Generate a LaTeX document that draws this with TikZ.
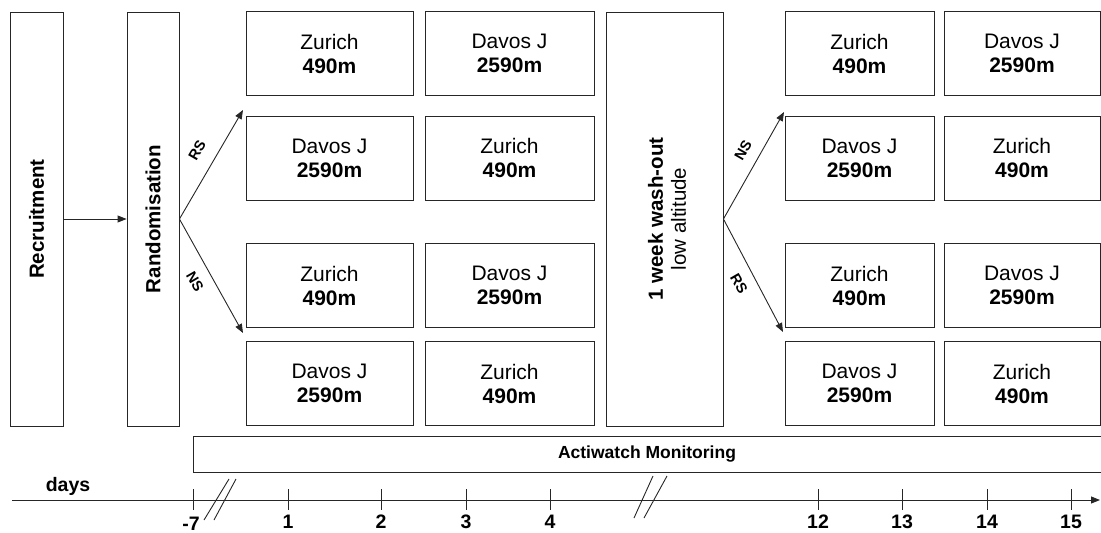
\documentclass[tikz,border=0pt]{standalone}
\usepackage{fontspec}
\setmainfont{Liberation Sans}
\usetikzlibrary{arrows.meta, positioning}
\tikzset{>={Triangle[length=9pt,width=7pt]}}
\tikzset{
  cell/.style={draw, inner sep=0pt, minimum height=84pt, align=center, font=\fontsize{21}{24}\selectfont},
  tall/.style={draw, inner sep=0pt, minimum height=414pt},
  vtxt/.style={rotate=90, align=center, font=\fontsize{20.5}{23}\selectfont},
  lbl/.style={font=\bfseries\fontsize{14.5}{16}\selectfont, inner sep=1pt},
  daylbl/.style={font=\bfseries\fontsize{19.5}{21}\selectfont},
}
\newcommand{\zur}{Zurich\\\textbf{490m}}
\newcommand{\dav}{Davos J\\\textbf{2590m}}

\begin{document}
\begin{tikzpicture}[x=1pt, y=-1pt, line width=0.9pt, draw=black!85]
    \useasboundingbox (0,0) rectangle (1101,533);
    % tall boxes
    \node[tall, minimum width=53pt] (rec) at (36.5,219) {};
    \node[vtxt] (rectxt) at (rec) {\textbf{Recruitment}};
    \node[tall, minimum width=52pt] (rnd) at (153,219) {};
    \node[vtxt] (rndtxt) at (rnd) {\textbf{Randomisation}};
    \node[tall, minimum width=117pt] (wash) at (664.5,219) {};
    \node[vtxt] (washtxt) at (667,219) {\textbf{1 week wash-out}\\low altitude};
    % first period
    \node[cell, minimum width=167pt] (a1) at (329.5,53.5) {\zur};
    \node[cell, minimum width=167pt] (a2) at (329.5,158) {\dav};
    \node[cell, minimum width=167pt] (a3) at (329.5,285.5) {\zur};
    \node[cell, minimum width=167pt] (a4) at (329.5,383.5) {\dav};
    \node[cell, minimum width=169pt] (b1) at (509.5,53.5) {\dav};
    \node[cell, minimum width=169pt] (b2) at (509.5,158) {\zur};
    \node[cell, minimum width=169pt] (b3) at (509.5,285.5) {\dav};
    \node[cell, minimum width=169pt] (b4) at (509.5,383.5) {\zur};
    % second period
    \node[cell, minimum width=149pt] (c1) at (859.5,53.5) {\zur};
    \node[cell, minimum width=149pt] (c2) at (859.5,158) {\dav};
    \node[cell, minimum width=149pt] (c3) at (859.5,285.5) {\zur};
    \node[cell, minimum width=149pt] (c4) at (859.5,383.5) {\dav};
    \node[cell, minimum width=156pt] (d1) at (1022,53.5) {\dav};
    \node[cell, minimum width=156pt] (d2) at (1022,158) {\zur};
    \node[cell, minimum width=156pt] (d3) at (1022,285.5) {\dav};
    \node[cell, minimum width=156pt] (d4) at (1022,383.5) {\zur};
    % arrows
    \coordinate (up1) at (243,110);
    \coordinate (dn1) at (243,333);
    \coordinate (up2) at (784,112);
    \coordinate (dn2) at (783,332);
    \draw [->] (rec) -- (rnd);
    \draw [->] (rnd.east) -- (up1);
    \draw [->] (rnd.east) -- (dn1);
    \draw [->] (wash.east) -- (up2);
    \draw [->] (wash.east) -- (dn2);
    \node[lbl, rotate=60] (rs1) at (197,150) {RS};
    \node[lbl, rotate=-60] (ns1) at (195,282) {NS};
    \node[lbl, rotate=60] (ns2) at (743,150) {NS};
    \node[lbl, rotate=-60] (rs2) at (739,284) {RS};
    % monitoring
    \node[draw, inner sep=0pt, minimum width=908pt, minimum height=36pt,
          font=\bfseries\fontsize{17.5}{20}\selectfont] (act) at (647,454) {Actiwatch Monitoring};
    % time axis
    \coordinate (t0) at (12,500);
    \coordinate (t1) at (1100,500);
    \draw [->] (t0) -- (t1);
    \node[daylbl] (days) at (68,486) {days};
    \draw (193,489)--(193,510);
    \draw (288,489)--(288,510);
    \draw (381,489)--(381,510);
    \draw (466,489)--(466,510);
    \draw (550,489)--(550,510);
    \draw (818,489)--(818,510);
    \draw (902,489)--(902,510);
    \draw (987,489)--(987,510);
    \draw (1071,489)--(1071,510);
    \draw (204,520)--(229,479);
    \draw (214,520)--(236,479);
    \draw (634,518)--(653,476);
    \draw (644,518)--(667,476);
    \node[daylbl] (dm7) at (191,524) {-7};
    \node[daylbl] (dd1) at (288,522) {1};
    \node[daylbl] (dd2) at (381,522) {2};
    \node[daylbl] (dd3) at (466,522) {3};
    \node[daylbl] (dd4) at (550,522) {4};
    \node[daylbl] (dd12) at (818,522) {12};
    \node[daylbl] (dd13) at (902,522) {13};
    \node[daylbl] (dd14) at (987,522) {14};
    \node[daylbl] (dd15) at (1071,522) {15};
\end{tikzpicture}
\end{document}
